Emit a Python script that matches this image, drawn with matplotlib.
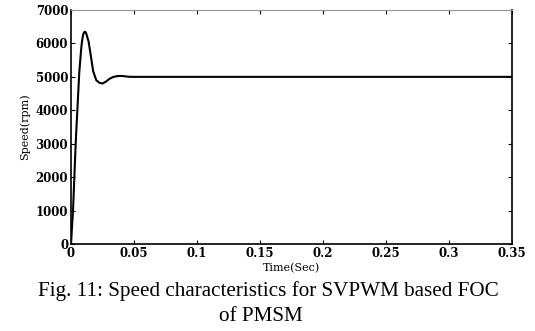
import numpy as np
import matplotlib as mpl
mpl.use('Agg')
import matplotlib.pyplot as plt

# speed response (time in s, speed in rpm)
time = [0.0, 0.0005, 0.0016, 0.0027, 0.0037, 0.0050, 0.0063, 0.0075, 0.0085,
        0.0095, 0.0105, 0.0112, 0.0120, 0.0140, 0.0160, 0.0175, 0.0200, 0.0225,
        0.0250, 0.0275, 0.0300, 0.0330, 0.0360, 0.0390, 0.0410, 0.0440, 0.0470,
        0.0500, 0.0600, 0.1000, 0.2000, 0.3000, 0.3500]
speed = [0, 300, 1000, 2000, 3000, 4000, 5000, 5600, 6000,
         6250, 6340, 6350, 6310, 6050, 5550, 5180, 4900, 4820,
         4800, 4850, 4930, 4990, 5020, 5030, 5025, 5010, 5000,
         5000, 5000, 5000, 5000, 5000, 5000]

xticks = [0, 0.05, 0.1, 0.15, 0.2, 0.25, 0.3, 0.35]
xticklabels = ['0', '0.05', '0.1', '0.15', '0.2', '0.25', '0.3', '0.35']
yticks = [0, 1000, 2000, 3000, 4000, 5000, 6000, 7000]

caption1 = 'Fig. 11: Speed characteristics for SVPWM based FOC'
caption2 = 'of PMSM'

fig = plt.figure(figsize=(5.35, 3.31), dpi=100)
ax = fig.add_axes([71/535, 1-244/331, (512-71)/535, (244-10)/331])

tt = np.linspace(0, 0.35, 3000)
ss = np.interp(tt, time, speed)
ax.plot(tt, ss, c='k', lw=1.5)

ax.set_xlim(0, 0.35)
ax.set_ylim(0, 7000)
ax.set_xticks(xticks)
ax.set_xticklabels(xticklabels)
ax.set_yticks(yticks)
ax.tick_params(direction='in', top=True, right=True, length=3, width=0.8,
               labelsize=8.5, pad=2)
for lab in ax.get_xticklabels() + ax.get_yticklabels():
    lab.set_family('DejaVu Serif')
    lab.set_weight('bold')
ax.spines['top'].set_color('#8a9a8a')
for s in ['left', 'right', 'bottom']:
    ax.spines[s].set_linewidth(1.2)

ax.set_xlabel('Time(Sec)', family='DejaVu Serif', size=8, labelpad=2)
ax.set_ylabel('Speed(rpm)', family='DejaVu Serif', size=8, labelpad=4)

fig.text(268/535, 1-296/331, caption1, ha='center', va='baseline',
         family='Liberation Serif', size=15.2)
fig.text(261/535, 1-321/331, caption2, ha='center', va='baseline',
         family='Liberation Serif', size=15.2)

plt.savefig('out.png', dpi=100)
plt.close()
